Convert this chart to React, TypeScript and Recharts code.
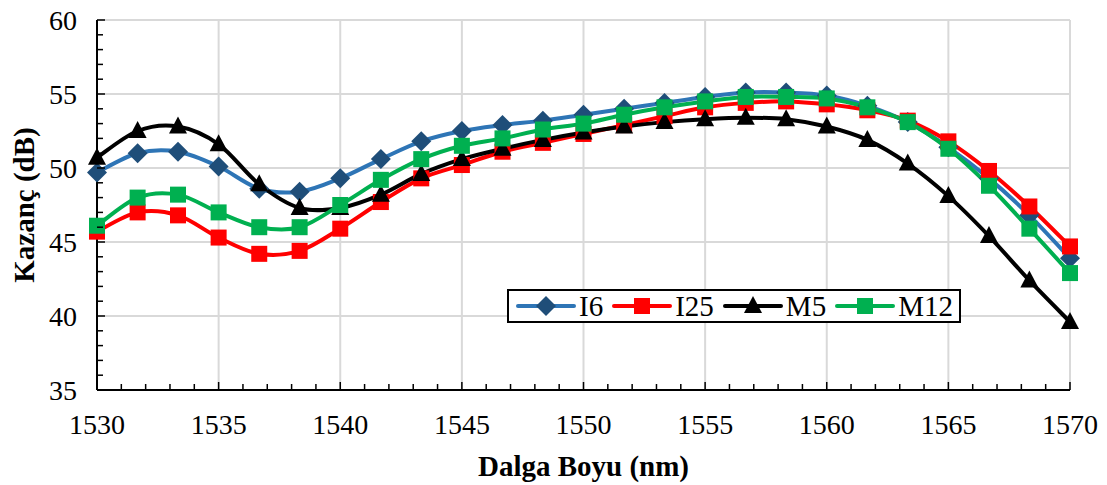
import React from "react";
import { LineChart, Line, XAxis, YAxis, CartesianGrid, Legend, Label } from "recharts";

const wavelengths = [
  1530, 1531.67, 1533.33, 1535, 1536.67, 1538.33, 1540, 1541.67, 1543.33, 1545,
  1546.67, 1548.33, 1550, 1551.67, 1553.33, 1555, 1556.67, 1558.33, 1560,
  1561.67, 1563.33, 1565, 1566.67, 1568.33, 1570,
];
const i6 = [
  49.7, 51.0, 51.1, 50.1, 48.6, 48.4, 49.3, 50.6, 51.8, 52.5, 52.9, 53.2, 53.6,
  54.0, 54.4, 54.8, 55.1, 55.1, 54.9, 54.2, 53.1, 51.4, 49.3, 46.8, 43.9,
];
const i25 = [
  45.7, 47.0, 46.8, 45.3, 44.2, 44.4, 45.9, 47.7, 49.3, 50.2, 51.1, 51.7, 52.3,
  52.9, 53.5, 54.1, 54.4, 54.5, 54.3, 53.9, 53.2, 51.8, 49.8, 47.4, 44.7,
];
const m5 = [
  50.7, 52.5, 52.8, 51.6, 48.9, 47.3, 47.3, 48.2, 49.6, 50.6, 51.3, 51.9, 52.4,
  52.8, 53.1, 53.3, 53.4, 53.3, 52.8, 51.9, 50.3, 48.1, 45.4, 42.4, 39.6,
];
const m12 = [
  46.1, 48.0, 48.2, 47.0, 46.0, 46.0, 47.5, 49.2, 50.6, 51.5, 52.0, 52.6, 53.0,
  53.6, 54.1, 54.5, 54.8, 54.8, 54.7, 54.1, 53.1, 51.3, 48.8, 45.9, 42.9,
];

const xMajorTicks = [1530, 1535, 1540, 1545, 1550, 1555, 1560, 1565, 1570];
const yMajorTicks = [35, 40, 45, 50, 55, 60];
const xAllTicks = Array.from({ length: 41 }, (_, i) => 1530 + i);
const yAllTicks = Array.from({ length: 26 }, (_, i) => 35 + i);

const FONT = "'Liberation Serif', 'Times New Roman', serif";

const data = wavelengths.map((w, i) => ({
  w,
  I6: i6[i],
  I25: i25[i],
  M5: m5[i],
  M12: m12[i],
}));

// Excel-like smoothed line (Catmull-Rom style bezier)
const smoothCurve = (ctx: any) => {
  let pts: number[][] = [];
  return {
    areaStart() {},
    areaEnd() {},
    lineStart() {
      pts = [];
    },
    point(x: number, y: number) {
      pts.push([+x, +y]);
    },
    lineEnd() {
      if (!pts.length) return;
      ctx.moveTo(pts[0][0], pts[0][1]);
      for (let i = 0; i < pts.length - 1; i++) {
        const p0 = pts[i - 1] || pts[i];
        const p1 = pts[i];
        const p2 = pts[i + 1];
        const p3 = pts[i + 2] || p2;
        ctx.bezierCurveTo(
          p1[0] + (p2[0] - p0[0]) / 6,
          p1[1] + (p2[1] - p0[1]) / 6,
          p2[0] - (p3[0] - p1[0]) / 6,
          p2[1] - (p3[1] - p1[1]) / 6,
          p2[0],
          p2[1]
        );
      }
    },
  };
};

const Marker = ({ shape, cx, cy, color }: any) => {
  if (shape === "diamond") {
    return (
      <path
        d={`M${cx},${cy - 10}L${cx + 10},${cy}L${cx},${cy + 10}L${cx - 10},${cy}Z`}
        fill={color}
      />
    );
  }
  if (shape === "triangle") {
    return (
      <path
        d={`M${cx},${cy - 10}L${cx + 9},${cy + 7}L${cx - 9},${cy + 7}Z`}
        fill={color}
      />
    );
  }
  return <rect x={cx - 8} y={cy - 8} width={16} height={16} fill={color} />;
};

const series = [
  { key: "I6", line: "#2E75B6", marker: "#1F4E79", shape: "diamond" },
  { key: "I25", line: "#FF0000", marker: "#FF0000", shape: "square" },
  { key: "M5", line: "#000000", marker: "#000000", shape: "triangle" },
  { key: "M12", line: "#00B050", marker: "#00B050", shape: "square" },
];

const XTick = (props: any) => {
  const { x, y, payload } = props;
  const major = payload.value % 5 === 0;
  return (
    <g>
      <line x1={x} x2={x} y1={y} y2={y - (major ? 8 : 6)} stroke="#000" strokeWidth={1.5} />
      {major && (
        <text x={x} y={y + 44} textAnchor="middle" fontFamily={FONT} fontSize={28} fill="#000">
          {payload.value}
        </text>
      )}
    </g>
  );
};

const YTick = (props: any) => {
  const { x, y, payload } = props;
  const major = payload.value % 5 === 0;
  return (
    <g>
      <line x1={x} x2={x + (major ? 8 : 6)} y1={y} y2={y} stroke="#000" strokeWidth={1.5} />
      {major && (
        <text x={x - 20} y={y + 10} textAnchor="end" fontFamily={FONT} fontSize={28} fill="#000">
          {payload.value}
        </text>
      )}
    </g>
  );
};

const LegendBox = () => (
  <div
    style={{
      display: "flex",
      alignItems: "center",
      border: "2px solid #000",
      background: "#fff",
      height: 30,
      padding: "0 6px",
      fontFamily: FONT,
      fontSize: 29,
      color: "#000",
      whiteSpace: "nowrap",
    }}
  >
    {series.map((s, i) => (
      <div
        key={s.key}
        style={{ display: "flex", alignItems: "center", marginRight: i < series.length - 1 ? 8 : 0 }}
      >
        <svg width={62} height={24}>
          <line x1={3} x2={59} y1={12} y2={12} stroke={s.line} strokeWidth={4} strokeLinecap="round" />
          <Marker shape={s.shape} cx={31} cy={12} color={s.marker} />
        </svg>
        <span style={{ marginLeft: 2, lineHeight: "30px" }}>{s.key}</span>
      </div>
    ))}
  </div>
);

const scaleOf = (axis: any, v: number) => {
  const s = axis?.scale;
  if (!s) return 0;
  return typeof s === "function" ? s(v) : s.map ? s.map(v) : 0;
};

export default function App() {
  return (
    <div style={{ position: "absolute", left: 0, top: 0, width: 1107, height: 485, background: "#fff" }}>
      <LineChart
        width={1107}
        height={485}
        data={data}
        margin={{ top: 20, right: 37, bottom: 0, left: 0 }}
      >
        <CartesianGrid
          stroke="#d9d9d9"
          strokeWidth={2}
          verticalCoordinatesGenerator={({ xAxis }: any) => xMajorTicks.map((v) => scaleOf(xAxis, v))}
          horizontalCoordinatesGenerator={({ yAxis }: any) => yMajorTicks.map((v) => scaleOf(yAxis, v))}
        />
        <XAxis
          dataKey="w"
          type="number"
          domain={[1530, 1570]}
          ticks={xAllTicks}
          interval={0}
          height={95}
          tickSize={0}
          tickMargin={0}
          tickLine={false}
          axisLine={{ stroke: "#000", strokeWidth: 2 }}
          tick={<XTick />}
        >
          <Label
            position="insideBottom"
            content={({ viewBox }: any) => (
              <text
                x={viewBox.x + viewBox.width / 2}
                y={viewBox.y + viewBox.height - 9}
                textAnchor="middle"
                fontFamily={FONT}
                fontSize={29}
                fontWeight="bold"
                fill="#000"
              >
                Dalga Boyu (nm)
              </text>
            )}
          />
        </XAxis>
        <XAxis
          xAxisId="top"
          orientation="top"
          type="number"
          domain={[1530, 1570]}
          height={0}
          tick={false}
          tickLine={false}
          axisLine={{ stroke: "#000", strokeWidth: 1.5 }}
        />
        <YAxis
          type="number"
          domain={[35, 60]}
          ticks={yAllTicks}
          interval={0}
          width={97}
          tickSize={0}
          tickMargin={0}
          tickLine={false}
          axisLine={{ stroke: "#000", strokeWidth: 2 }}
          tick={<YTick />}
        >
          <Label
            content={({ viewBox }: any) => {
              const cy = viewBox.y + viewBox.height / 2;
              return (
                <text
                  x={24}
                  y={cy}
                  transform={`rotate(-90 24 ${cy})`}
                  textAnchor="middle"
                  dominantBaseline="central"
                  fontFamily={FONT}
                  fontSize={29}
                  fontWeight="bold"
                  fill="#000"
                >
                  Kazanç (dB)
                </text>
              );
            }}
          />
        </YAxis>
        <YAxis
          yAxisId="right"
          orientation="right"
          type="number"
          domain={[35, 60]}
          width={0}
          tick={false}
          tickLine={false}
          axisLine={{ stroke: "#000", strokeWidth: 1.5 }}
        />
        {series.map((s) => (
          <Line
            key={s.key}
            dataKey={s.key}
            type={smoothCurve as any}
            stroke={s.line}
            strokeWidth={4}
            isAnimationActive={false}
            dot={(p: any) => (
              <Marker key={`${s.key}-${p.index}`} shape={s.shape} cx={p.cx} cy={p.cy} color={s.marker} />
            )}
            activeDot={false}
          />
        ))}
        <Legend
          layout="horizontal"
          verticalAlign="middle"
          align="center"
          content={<LegendBox />}
          wrapperStyle={{ left: 507, top: 289, width: "auto" }}
        />
      </LineChart>
    </div>
  );
}
